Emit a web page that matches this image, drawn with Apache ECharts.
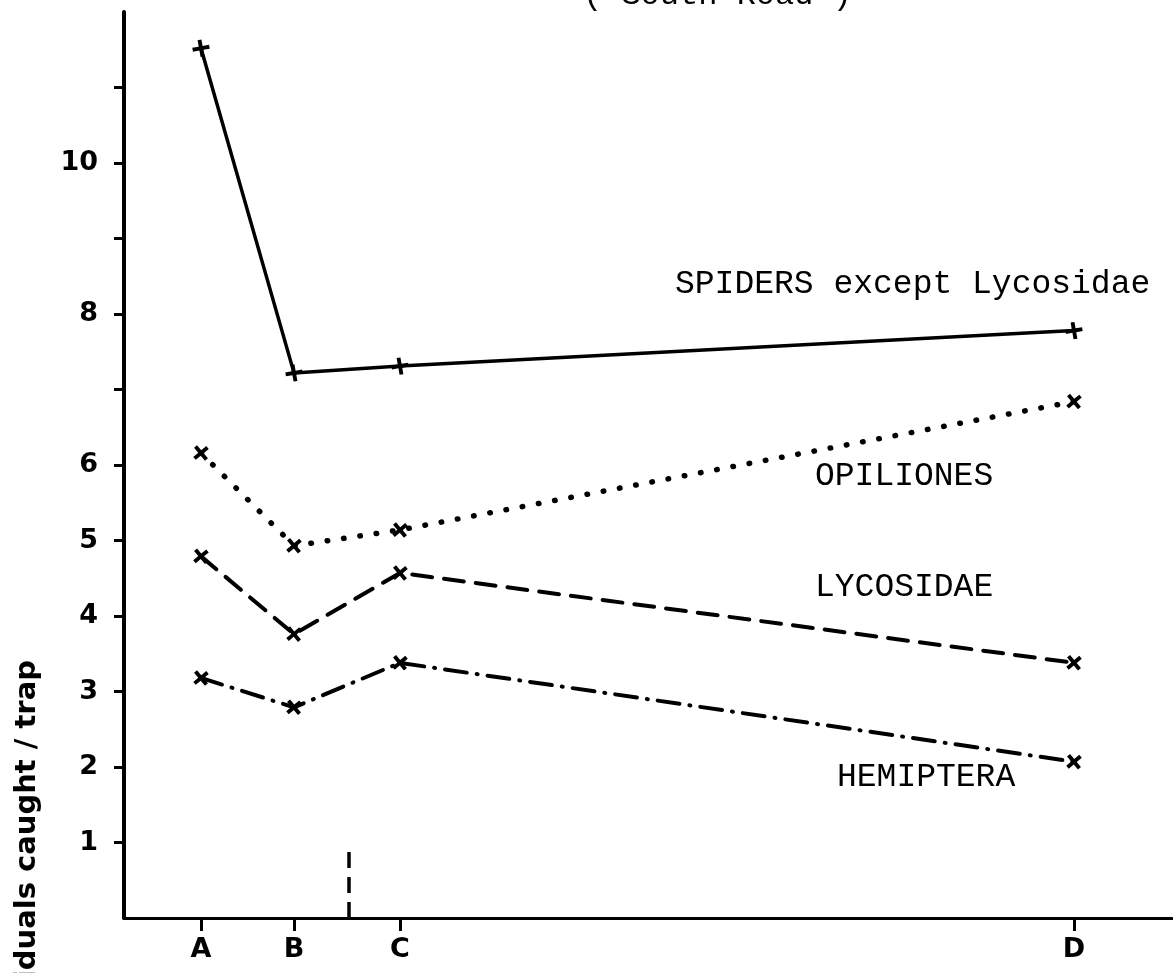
<!DOCTYPE html>
<html>
<head>
<meta charset="utf-8">
<script src="https://cdn.jsdelivr.net/npm/echarts@6/dist/echarts.min.js"></script>
<style>
html,body{margin:0;padding:0;background:#fff;}
#chart{width:1173px;height:973px;}
</style>
</head>
<body>
<div id="chart"></div>
<script>
// ---- data ----
const sites = ['A', 'B', 'C', 'D'];
const sitePos = [0.77, 1.70, 2.76, 9.50];
const spiders = [11.52, 7.22, 7.31, 7.78];
const opiliones = [6.16, 4.93, 5.14, 6.84];
const lycosidae = [4.79, 3.76, 4.57, 3.38];
const hemiptera = [3.18, 2.79, 3.38, 2.07];
const yTickValues = [1, 2, 3, 4, 5, 6, 7, 8, 9, 10, 11];
const yLabelValues = [1, 2, 3, 4, 5, 6, 8, 10];
const boundaryPos = 2.25;
const boundaryTop = 0.95;
const seriesNames = ['SPIDERS except Lycosidae', 'OPILIONES', 'LYCOSIDAE', 'HEMIPTERA'];
const titleText = '( South Road )';
const yAxisTitle = 'No. of individuals caught / trap';

const chart = echarts.init(document.getElementById('chart'), null, {renderer: 'canvas'});
const pts = arr => arr.map((v, i) => [sitePos[i], v]);
const plus = 'path://M-1.6,-7 L1.6,-7 L1.6,-1.6 L7,-1.6 L7,1.6 L1.6,1.6 L1.6,7 L-1.6,7 L-1.6,1.6 L-7,1.6 L-7,-1.6 L-1.6,-1.6 Z';
const hand = '"DejaVu Sans", "Noto Sans", sans-serif';
const mono = '"Liberation Mono", "DejaVu Sans Mono", monospace';

function lineSeries(name, data, type, width, rot) {
  return {
    name: name, type: 'line', data: pts(data),
    symbol: plus, symbolSize: 17, symbolRotate: rot,
    itemStyle: {color: '#000'},
    lineStyle: {color: '#000', width: width, type: type, cap: 'round'},
    animation: false, z: 3
  };
}

const option = {
  backgroundColor: '#fff',
  animation: false,
  grid: {left: 124, right: 1, top: 12, bottom: 55, containLabel: false},
  xAxis: {
    type: 'value', min: 0, max: 10.48,
    axisLine: {show: true, lineStyle: {color: '#000', width: 3}},
    axisTick: {show: true, customValues: sitePos, length: 13, lineStyle: {color: '#000', width: 3}},
    axisLabel: {
      customValues: sitePos, margin: 18, color: '#000',
      fontFamily: hand, fontWeight: 'bold', fontSize: 27,
      formatter: v => {
        let best = 0;
        sitePos.forEach((p, i) => { if (Math.abs(p - v) < Math.abs(sitePos[best] - v)) best = i; });
        return sites[best];
      }
    },
    splitLine: {show: false}
  },
  yAxis: {
    type: 'value', min: 0, max: 12,
    axisLine: {show: true, lineStyle: {color: '#000', width: 4}},
    axisTick: {show: true, customValues: yTickValues, length: 10, lineStyle: {color: '#000', width: 3}},
    axisLabel: {customValues: yLabelValues, margin: 26, color: '#000',
      fontFamily: hand, fontWeight: 'bold', fontSize: 27},
    splitLine: {show: false}
  },
  series: [
    lineSeries(seriesNames[0], spiders, 'solid', 3.5, 10),
    lineSeries(seriesNames[1], opiliones, [0.5, 16], 5.5, 40),
    lineSeries(seriesNames[2], lycosidae, [20, 12], 4, 40),
    lineSeries(seriesNames[3], hemiptera, [22, 10, 1, 10], 4, 40),
    {
      name: 'boundary', type: 'line',
      data: [[boundaryPos, 0], [boundaryPos, boundaryTop]],
      symbol: 'none',
      lineStyle: {color: '#000', width: 3.5, type: [16, 9]},
      animation: false
    }
  ],
  graphic: [
    {type: 'text', left: 675, top: 268, style: {text: seriesNames[0], font: '33px ' + mono, fill: '#000'}},
    {type: 'text', left: 815, top: 460, style: {text: seriesNames[1], font: '33px ' + mono, fill: '#000'}},
    {type: 'text', left: 815, top: 571, style: {text: seriesNames[2], font: '33px ' + mono, fill: '#000'}},
    {type: 'text', left: 837, top: 761, style: {text: seriesNames[3], font: '33px ' + mono, fill: '#000'}},
    {type: 'text', x: 583, y: -4, style: {text: titleText, font: '32px ' + mono, fill: '#000', align: 'left', verticalAlign: 'middle'}},
    {type: 'text', x: 27, y: 660, rotation: Math.PI / 2,
      style: {text: yAxisTitle, font: 'bold 29px ' + hand, fill: '#000', align: 'right', verticalAlign: 'middle'}}
  ]
};
chart.setOption(option);
</script>
</body>
</html>
